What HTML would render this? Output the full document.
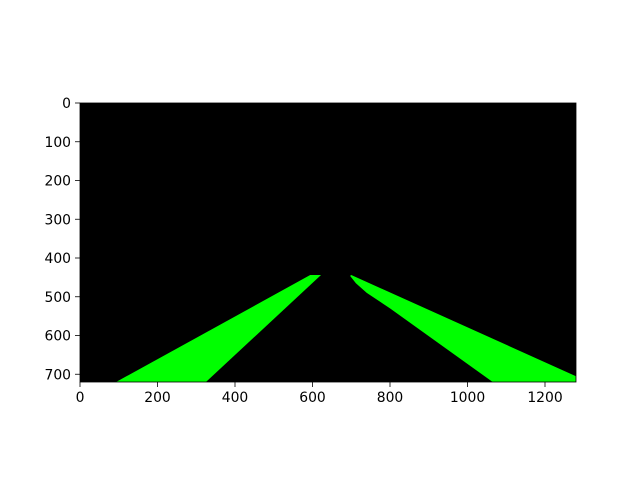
<!DOCTYPE html>
<html><head><meta charset="utf-8"><style>body{margin:0;background:#fff}svg text{font-family:"DejaVu Sans","Liberation Sans",sans-serif;font-size:13.9px;fill:#000}</style></head>
<body>
<svg id="chart" width="640" height="480" xmlns="http://www.w3.org/2000/svg">
<rect x="80" y="103" width="496" height="279" fill="#000"/>
<g id="marks"></g><g id="axes"></g>
<rect x="80" y="103" width="496" height="279" fill="none" stroke="#000" stroke-width="0.8"/>
</svg>
<script>
const xTicks=[0,200,400,600,800,1000,1200];
const yTicks=[0,100,200,300,400,500,600,700];
const leftLaneX=[594,622,325,93];
const leftLaneY=[444,444,720,720];
const rightLaneX=[697,700,1280,1280,1065,800,740,712,700];
const rightLaneY=[446,444,705,720,720,530,490,465,450];
const X0=80,Y0=103,S=496/1280,H=279/720;
const sx=v=>X0+v*S, sy=v=>Y0+v*H;
const ns="http://www.w3.org/2000/svg";
const marks=document.getElementById('marks'), axes=document.getElementById('axes');
function poly(xs,ys,name){const p=document.createElementNS(ns,'polygon');
p.setAttribute('points',xs.map((x,i)=>sx(x)+','+sy(ys[i])).join(' '));
p.setAttribute('fill','#00ff00');


marks.appendChild(p);}
poly(leftLaneX,leftLaneY,'left-lane');
poly(rightLaneX,rightLaneY,'right-lane');
xTicks.forEach(v=>{const l=document.createElementNS(ns,'line');
l.setAttribute('x1',sx(v));l.setAttribute('x2',sx(v));l.setAttribute('y1',382);l.setAttribute('y2',387);l.setAttribute('stroke','#000');l.setAttribute('stroke-width','0.8');


axes.appendChild(l);
const t=document.createElementNS(ns,'text');t.setAttribute('x',sx(v));t.setAttribute('y',402);t.setAttribute('text-anchor','middle');t.textContent=v;


axes.appendChild(t);});
yTicks.forEach(v=>{const l=document.createElementNS(ns,'line');
l.setAttribute('x1',75);l.setAttribute('x2',80);l.setAttribute('y1',sy(v));l.setAttribute('y2',sy(v));l.setAttribute('stroke','#000');l.setAttribute('stroke-width','0.8');


axes.appendChild(l);
const t=document.createElementNS(ns,'text');t.setAttribute('x',71);t.setAttribute('y',sy(v)+5);t.setAttribute('text-anchor','end');t.textContent=v;


axes.appendChild(t);});
</script>
</body></html>
